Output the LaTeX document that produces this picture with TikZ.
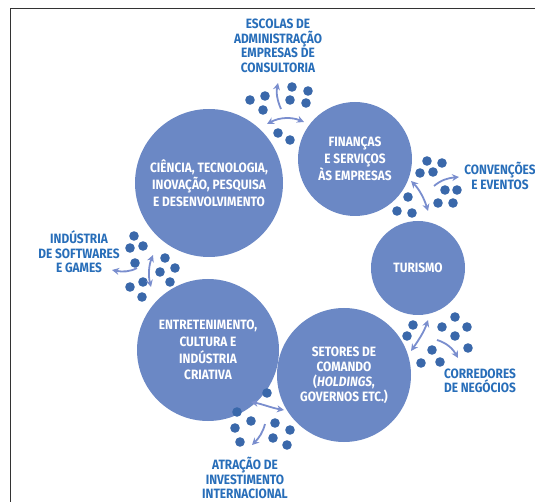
\documentclass[tikz,border=0pt]{standalone}
\usepackage{fontspec}
\setmainfont{Fira Sans}[FakeStretch=0.88]
\usetikzlibrary{arrows.meta}
\definecolor{circ}{RGB}{107,136,197}
\definecolor{dotc}{RGB}{58,104,170}
\definecolor{labc}{RGB}{40,110,185}
\definecolor{arrc}{RGB}{122,142,206}
\begin{document}
\begin{tikzpicture}[x=1pt,y=-1pt,
  bub/.style={circle,fill=circ,text=white,inner sep=0pt,align=center,font=\bfseries\fontsize{13.5}{16.8}\selectfont},
  lab/.style={text=labc,align=center,inner sep=0pt,font=\bfseries\fontsize{13.5}{14.5}\selectfont},
  arr/.style={draw=arrc,line width=1.8pt,-{Stealth[length=7pt,width=7pt]}},
  darr/.style={draw=arrc,line width=1.8pt,{Stealth[length=7pt,width=7pt]}-{Stealth[length=7pt,width=7pt]}}]
\useasboundingbox (0,0) rectangle (535,502);
\draw[black!80, line width=0.8pt] (535,8.5) -- (10,8.5) -- (10,502);

% circles
\node[bub, minimum size=148pt] (cien) at (209,183) {CIÊNCIA, TECNOLOGIA,\\INOVAÇÃO, PESQUISA\\E DESENVOLVIMENTO};
\node[bub, minimum size=114pt] (fin) at (355,159) {FINANÇAS\\E SERVIÇOS\\ÀS EMPRESAS};
\node[bub, minimum size=94pt] (tur) at (418,268) {TURISMO};
\node[bub, minimum size=142pt] (ent) at (208,350) {ENTRETENIMENTO,\\CULTURA E\\INDÚSTRIA\\CRIATIVA};
\node[bub, minimum size=134pt, font=\bfseries\fontsize{13.5}{15}\selectfont] (set) at (344,375) {SETORES DE\\COMANDO\\(\textit{HOLDINGS},\\GOVERNOS ETC.)};

% outer labels
\node[lab] (esc) at (278,46) {ESCOLAS DE\\ADMINISTRAÇÃO\\EMPRESAS DE\\CONSULTORIA};
\node[lab] (conv) at (500,176) {CONVENÇÕES\\E EVENTOS};
\node[lab] (corr) at (480,381) {CORREDORES\\DE NEGÓCIOS};
\node[lab] (atr) at (245,478) {ATRAÇÃO DE\\INVESTIMENTO\\INTERNACIONAL};
\node[lab] (ind) at (79,252) {INDÚSTRIA\\DE SOFTWARES\\E GAMES};

% dots
\foreach \p in {(250,100),(265,96),(263,110),(292,87),(308,91),(290,100),(306,103),(278,133),(290,140),
  (427,161),(442,163),(420,173),(433,172),(445,190),(457,190),(438,203),(453,203),(408,197),(397,211),(412,213),
  (413,325),(407,336),(442,327),(455,317),(467,327),(455,336),(432,350),(468,348),(421,363),(440,362),
  (267,393),(237,412),(251,421),(235,428),(275,423),(290,430),(273,438),(287,445),(240,442),
  (134,236),(130,248),(143,246),(135,263),(165,258),(175,268),(160,272),(170,282),(130,287),(143,282),(142,297)}
  \fill[dotc] \p circle (4.8pt);

% arrows
\draw[arr] (281,109) .. controls (277,100) and (276,92) .. (278,83);
\draw[darr] (267,124) .. controls (280,117) and (292,117) .. (304,122);
\draw[darr] (411,181) .. controls (419,189) and (424,198) .. (428,211);
\draw[arr] (434,186) .. controls (441,180) and (448,178) .. (459,177);
\draw[darr] (411,351) .. controls (418,341) and (424,332) .. (428,320);
\draw[arr] (437,340) .. controls (447,343) and (453,349) .. (458,358);
\draw[darr] (251,402) .. controls (262,404) and (272,408) .. (284,410);
\draw[arr] (265,424) .. controls (263,432) and (259,438) .. (252,445);
\draw[darr] (153,255) .. controls (149,265) and (148,275) .. (151,287);
\draw[arr] (137,268) .. controls (130,272) and (122,272) .. (112,270);
\end{tikzpicture}
\end{document}
